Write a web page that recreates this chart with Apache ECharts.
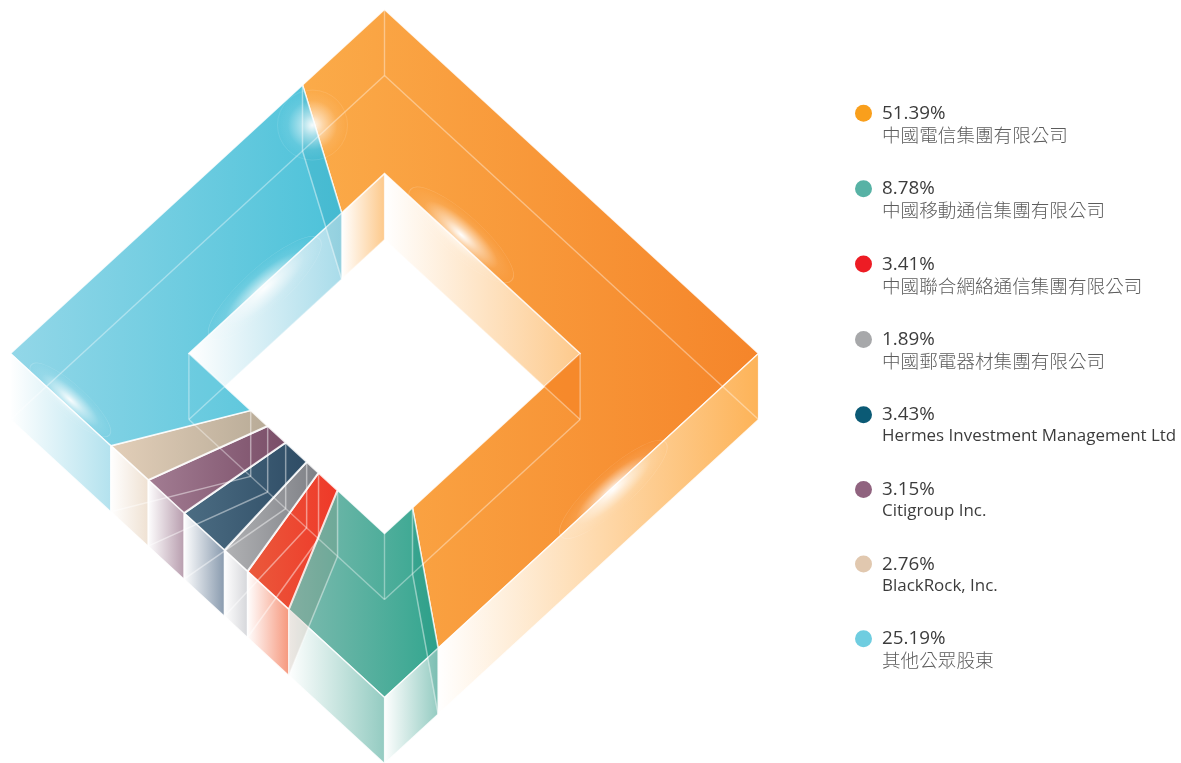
<!DOCTYPE html>
<html><head><meta charset="utf-8">
<style>html,body{margin:0;padding:0;background:#fff}#c{width:1181px;height:763px}</style>
<script src="https://cdn.jsdelivr.net/npm/echarts@6/dist/echarts.min.js"></script>
</head><body><div id="c"></div>
<script>
// Shareholders, clockwise round the ring starting from the cyan/orange joint
const holders = ['中國電信集團有限公司','中國移動通信集團有限公司','中國聯合網絡通信集團有限公司','中國郵電器材集團有限公司','Hermes Investment Management Ltd','Citigroup Inc.','BlackRock, Inc.','其他公眾股東'];
const shares = [51.39, 8.78, 3.41, 1.89, 3.43, 3.15, 2.76, 25.19];
// Perimeter share each segment occupies in the picture, as measured (%), outer and inner rim
const outerSpans = [51.9, 9.98, 2.76, 1.54, 2.7, 2.4, 2.5, 26.22];
const innerSpans = [51.9, 9.58, 2.43, 1.52, 2.68, 2.3, 2.17, 27.42];
const ringStart = -5.48;
const legendColors = ['#f99f1c','#57b2a5','#ed1c24','#a7a8aa','#0b5a75','#90637f','#e1c8af','#6fcde0'];
const faceColors = [['#fbab49','#f5852a'],['#80bbb0','#33a68f'],['#ea5a3c','#ef3828'],['#b2b3b5','#7d7f85'],['#4c6d83','#2e4c65'],['#a37d93','#794d67'],['#e3cfb9','#b8ab97'],['#93d7e8','#4cc2d9']];
const frontWallColors = ['#fdb358','#93cbc1','#f6977c','#d5d6da','#8799ad','#b79cad','#efe1d2','#b3e2ee'];
const backWallColors = ['#fdc98b',null,null,null,null,null,null,'#a9dcea'];

const RING_IN = 0.523, DEPTH = 66 / 344;
const corners = [[0,1],[1,0],[0,-1],[-1,0],[0,1]];
function pt(t, r, drop) {
  const u = ((t % 1) + 1) % 1, s = Math.min(3, Math.floor(u * 4)), f = u * 4 - s;
  const a = corners[s], b = corners[s + 1];
  return [r * (a[0] + (b[0] - a[0]) * f), r * (a[1] + (b[1] - a[1]) * f) - (drop ? DEPTH : 0)];
}
function cum(spans) { const o = [ringStart / 100]; spans.forEach(v => o.push(o[o.length - 1] + v / 100)); return o; }
const tOut = cum(outerSpans), tIn = cum(innerSpans);
function breaks(t0, t1) {
  const o = [t0];
  for (let k = -2; k <= 6; k++) { const c = k * 0.25; if (c > t0 + 1e-6 && c < t1 - 1e-6) o.push(c); }
  o.push(t1); return o;
}
function hGrad(a, b) { return {type:'linear',x:0,y:0,x2:1,y2:0,colorStops:[{offset:0,color:a},{offset:1,color:b}]}; }

function segmentItem(i) {
  return function (params, api) {
    const C = p => api.coord(p);
    const kids = [];
    const outer = breaks(tOut[i], tOut[i + 1]).map(t => pt(t, 1));
    const inner = breaks(tIn[i], tIn[i + 1]).map(t => pt(t, RING_IN)).reverse();
    kids.push({type:'polygon', z2:20, shape:{points: outer.concat(inner).map(C)},
      style:{fill:hGrad(faceColors[i][0], faceColors[i][1]), stroke:'rgba(255,255,255,0.85)', lineWidth:(i >= 2 && i <= 6) ? 2 : 1.5}});
    // front walls (lower half of the outer rim)
    const bo = breaks(tOut[i], tOut[i + 1]);
    for (let k = 0; k + 1 < bo.length; k++) {
      const a = bo[k], b = bo[k + 1];
      if (a >= 0.25 - 1e-6 && b <= 0.75 + 1e-6) {
        kids.push({type:'polygon', z2:30, shape:{points:[pt(a,1),pt(b,1),pt(b,1,true),pt(a,1,true)].map(C)},
          style:{fill:hGrad('#ffffff', frontWallColors[i]), stroke:'rgba(255,255,255,0.85)', lineWidth:1.2}});
      }
    }
    // far walls seen through the hole (upper half of the inner rim)
    if (backWallColors[i]) {
      const bi = breaks(tIn[i], tIn[i + 1]);
      for (let k = 0; k + 1 < bi.length; k++) {
        const a = bi[k], b = bi[k + 1], m = ((((a + b) / 2) % 1) + 1) % 1;
        if (m > 0.75 || m < 0.25) {
          kids.push({type:'polygon', z2:10, shape:{points:[pt(a,RING_IN),pt(b,RING_IN),pt(b,RING_IN,true),pt(a,RING_IN,true)].map(C)},
            style:{fill:hGrad('#ffffff', backWallColors[i])}});
        }
      }
    }
    return {type:'group', children:kids};
  };
}

// Ghost lines of the "glass" block, tinted joints and highlights
const ghostLines = [];
function ring(r, a, b, drop) { return [pt(a, r, drop), pt(b, r, drop)]; }
[ring(1,0,0.25,true), ring(1,0,-0.25,true), ring(RING_IN,0,0.25,true), ring(RING_IN,0,-0.25,true),
 ring(RING_IN,0.25,0.5,true), ring(RING_IN,0.5,0.75,true)].forEach(l => ghostLines.push(l));
[[1,0],[RING_IN,0],[RING_IN,0.25],[RING_IN,0.5],[RING_IN,0.75]].forEach(v => ghostLines.push([pt(v[1],v[0]),pt(v[1],v[0],true)]));
const jointLines = [];
for (let i = 0; i < 8; i++) {
  const a = tOut[i], b = tIn[i];
  jointLines.push([pt(a,1,true),pt(b,RING_IN,true)]);
  jointLines.push([pt(b,RING_IN),pt(b,RING_IN,true)]);
  jointLines.push([pt(a,1),pt(a,1,true)]);
}
const joints = [[0,'rgba(30,150,165,0.16)'],[1,'rgba(25,140,120,0.2)'],[2,'rgba(150,115,85,0.16)']];
const overlaps = [[[RING_IN,0],[RING_IN-DEPTH/2,-DEPTH/2],[RING_IN,-DEPTH],'rgba(245,130,35,0.6)'],
                  [[-RING_IN,0],[-RING_IN+DEPTH/2,-DEPTH/2],[-RING_IN,-DEPTH],'rgba(110,205,225,0.3)']];
// x, y (ring units), radius, stretch, angle, strength
const glows = [[-0.1925,0.664,35,1,0,0.95],[-0.32,0.19,21,3.5,42,0.95],[0.205,0.345,20,3.4,-42,1],
               [0.612,-0.395,19,3.7,42,0.98],[-0.84,-0.135,15,3.5,-42,0.95]];
function glassItem(params, api) {
  const C = p => api.coord(p), kids = [];
  overlaps.forEach(o => kids.push({type:'polygon', z2:25, shape:{points:[o[0],o[1],o[2]].map(C)}, style:{fill:o[3]}}));
  joints.forEach(j => {
    const k = j[0], oa = tOut[k], ib = tIn[k];
    kids.push({type:'polygon', z2:35, shape:{points:[pt(oa,1),pt(ib,RING_IN),pt(ib,RING_IN,true),pt(oa,1,true)].map(C)}, style:{fill:j[1]}});
  });
  ghostLines.forEach(l => {
    const a = C(l[0]), b = C(l[1]);
    kids.push({type:'line', z2:40, shape:{x1:a[0],y1:a[1],x2:b[0],y2:b[1]}, style:{stroke:'rgba(255,255,255,0.38)', lineWidth:1.4}});
  });
  jointLines.forEach(l => {
    const a = C(l[0]), b = C(l[1]);
    kids.push({type:'line', z2:41, shape:{x1:a[0],y1:a[1],x2:b[0],y2:b[1]}, style:{stroke:'rgba(255,255,255,0.45)', lineWidth:1.5}});
  });
  glows.forEach(g => {
    const c = C([g[0], g[1]]);
    kids.push({type:'circle', z2:50, x:c[0], y:c[1], scaleX:g[3], scaleY:1, rotation:g[4]*Math.PI/180,
      shape:{cx:0,cy:0,r:g[2]},
      style:{fill:{type:'radial',x:0.5,y:0.5,r:0.5,colorStops:[{offset:0,color:'rgba(255,255,255,'+g[5]+')'},{offset:0.3,color:'rgba(255,255,255,'+g[5]*0.55+')'},{offset:0.7,color:'rgba(255,255,255,0.08)'},{offset:1,color:'rgba(255,255,255,0)'}]},
        stroke:'rgba(255,255,255,0.18)', lineWidth:0.6, strokeNoScale:true}});
  });
  return {type:'group', children:kids};
}

const series = holders.map((name, i) => ({
  name, type:'custom', coordinateSystem:'cartesian2d', renderItem:segmentItem(i), clip:false,
  silent:true, itemStyle:{color:legendColors[i]}, data:[[0, shares[i]]]
}));
series.push({name:'glass', type:'custom', coordinateSystem:'cartesian2d', renderItem:glassItem, clip:false, silent:true, data:[[0,0]]});

const chart = echarts.init(document.getElementById('c'), null, {renderer:'canvas'});
chart.setOption({
  animation:false,
  grid:{left:10.5, top:9.5, width:748, height:688},
  xAxis:{type:'value', min:-1, max:1, show:false},
  yAxis:{type:'value', min:-1, max:1, show:false},
  legend:{
    data:holders, orient:'vertical', left:855, top:104, padding:0, itemGap:35.1, itemWidth:17, itemHeight:17,
    icon:'circle', selectedMode:false,
    formatter:n => '{v|' + shares[holders.indexOf(n)].toFixed(2) + '%}\n{' + (/^[A-Z]/.test(n) ? 'l' : 'c') + '|' + n + '}',
    textStyle:{padding:[22,0,0,5], rich:{
      v:{fontFamily:'"Open Sans","Noto Sans",sans-serif', fontSize:18.8, lineHeight:21.5, color:'#3c3c3c'},
      l:{fontFamily:'"Open Sans","Noto Sans",sans-serif', fontSize:16.95, lineHeight:21.5, color:'#3c3c3c'},
      c:{fontFamily:'"Noto Sans CJK TC",sans-serif', fontSize:18.6, fontWeight:300, lineHeight:21.5, color:'#5c5c5c'}
    }}
  },
  series
});
</script></body></html>
